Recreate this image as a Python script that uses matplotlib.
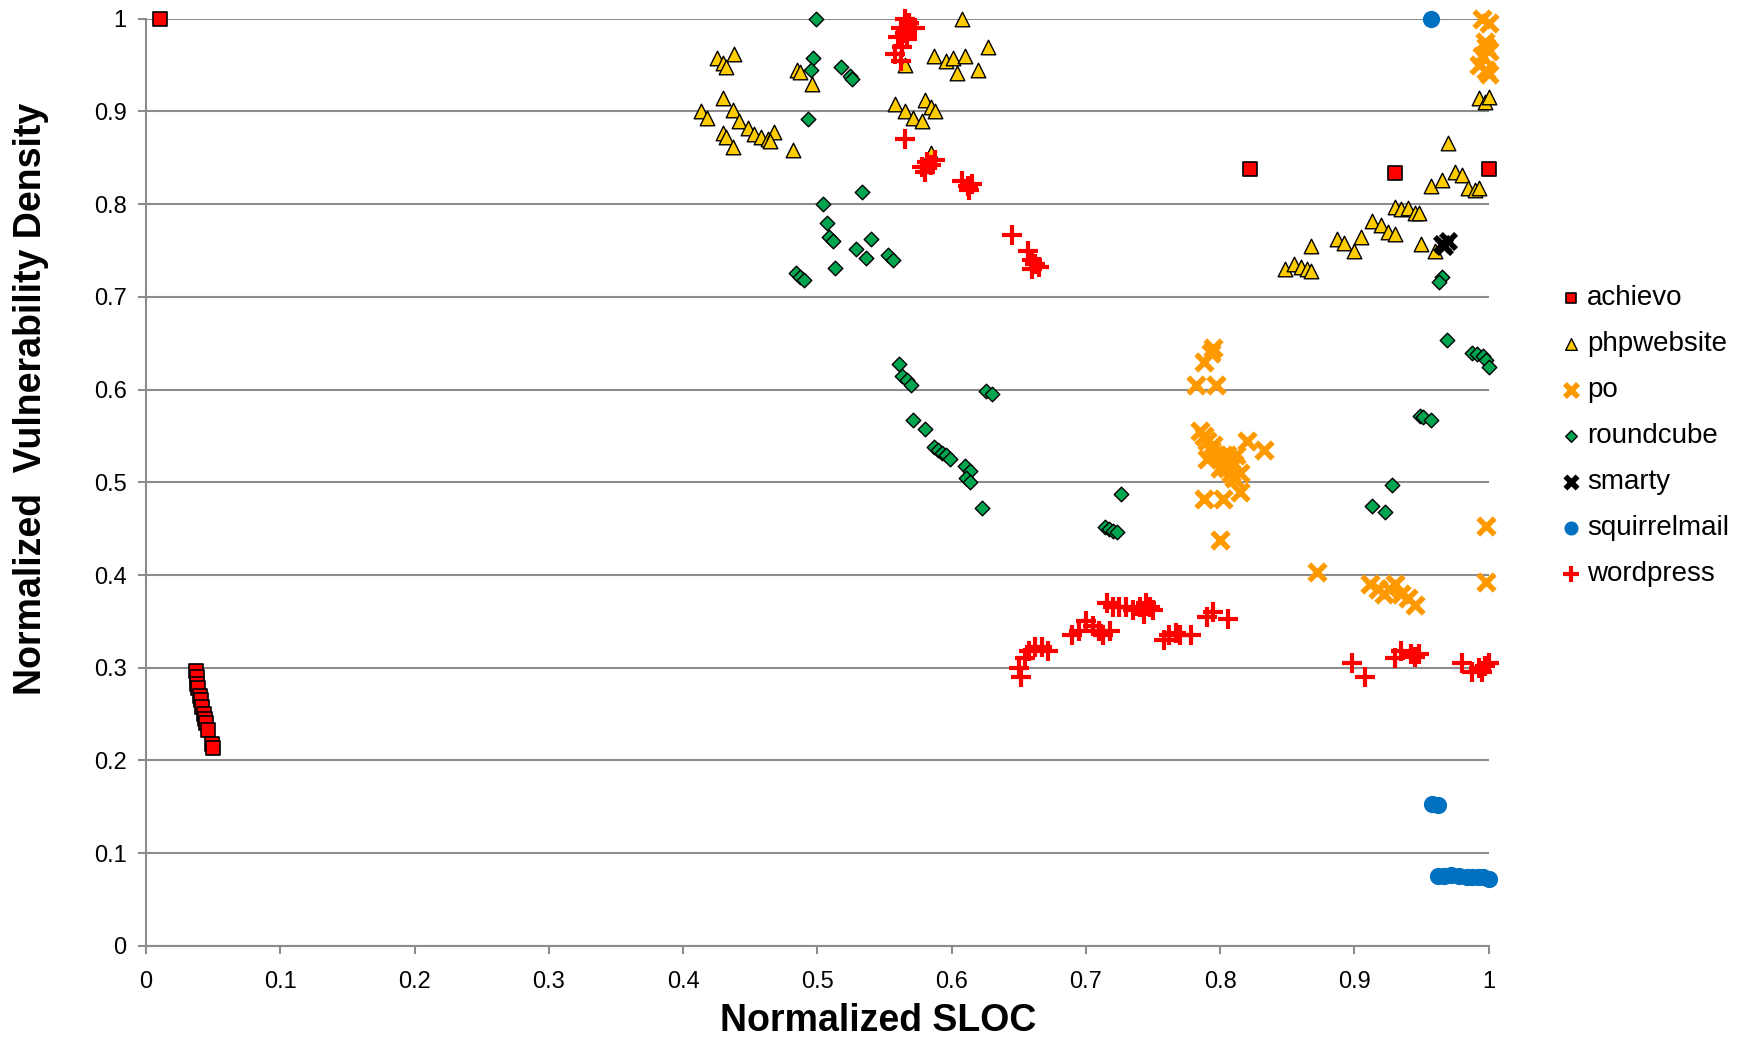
import matplotlib
matplotlib.use("Agg")
import matplotlib.pyplot as plt

plt.rcParams['font.family'] = ['Liberation Sans', 'DejaVu Sans']

# achievo
achievo_x = [0.01, 0.822, 0.93, 1.0, 0.037, 0.038, 0.038, 0.039, 0.040, 0.041, 0.042, 0.043,
             0.044, 0.045, 0.046, 0.049, 0.050]
achievo_y = [1.0, 0.838, 0.834, 0.838, 0.296, 0.290, 0.283, 0.278, 0.270, 0.265, 0.258, 0.250,
             0.245, 0.240, 0.233, 0.218, 0.213]

# phpwebsite
php_x = [0.413, 0.418, 0.425, 0.430, 0.432, 0.438, 0.430, 0.437, 0.442, 0.448, 0.453, 0.458,
         0.463, 0.468, 0.465, 0.430, 0.432, 0.437, 0.482, 0.485, 0.487, 0.496, 0.565, 0.558,
         0.565, 0.571, 0.578, 0.580, 0.585, 0.588, 0.585, 0.587, 0.596, 0.601, 0.604, 0.610,
         0.608, 0.620, 0.627,
         0.993, 0.997, 1.0, 0.970, 0.957, 0.965, 0.975, 0.980, 0.985, 0.990, 0.993, 0.950,
         0.960, 0.930, 0.935, 0.940, 0.945, 0.948, 0.913, 0.920, 0.925, 0.930, 0.887, 0.892,
         0.900, 0.905, 0.868, 0.848, 0.855, 0.860, 0.865, 0.868]
php_y = [0.900, 0.893, 0.958, 0.952, 0.948, 0.962, 0.915, 0.902, 0.890, 0.882, 0.876, 0.873,
         0.870, 0.878, 0.868, 0.877, 0.872, 0.862, 0.858, 0.945, 0.943, 0.930, 0.950, 0.908,
         0.900, 0.893, 0.890, 0.912, 0.905, 0.900, 0.855, 0.960, 0.955, 0.958, 0.942, 0.960,
         1.0, 0.945, 0.970,
         0.915, 0.910, 0.916, 0.866, 0.820, 0.826, 0.835, 0.832, 0.818, 0.815, 0.818, 0.757,
         0.750, 0.797, 0.795, 0.796, 0.790, 0.790, 0.782, 0.778, 0.770, 0.768, 0.762, 0.758,
         0.750, 0.765, 0.755, 0.730, 0.735, 0.732, 0.730, 0.728]

# po
po_x = [0.995, 1.0, 0.998, 0.995, 1.0, 0.993, 0.998, 1.0, 0.997,
        0.782, 0.788, 0.793, 0.795, 0.797, 0.785, 0.788, 0.790, 0.793, 0.795, 0.798, 0.800,
        0.803, 0.805, 0.808, 0.810, 0.812, 0.815, 0.820, 0.833, 0.815, 0.788, 0.802, 0.800,
        0.805, 0.810, 0.790, 0.800,
        0.872, 0.998, 0.998, 0.912, 0.918, 0.922, 0.926, 0.930, 0.935, 0.940, 0.945]
po_y = [1.0, 0.995, 0.970, 0.960, 0.965, 0.950, 0.945, 0.940, 0.975,
        0.605, 0.630, 0.640, 0.645, 0.605, 0.555, 0.550, 0.545, 0.535, 0.540, 0.530, 0.525,
        0.520, 0.515, 0.510, 0.520, 0.530, 0.510, 0.545, 0.535, 0.490, 0.482, 0.482, 0.438,
        0.530, 0.505, 0.525, 0.515,
        0.403, 0.453, 0.393, 0.390, 0.385, 0.380, 0.385, 0.390, 0.380, 0.375, 0.368]

# roundcube
rc_x = [0.499, 0.497, 0.495, 0.524, 0.526, 0.518, 0.493, 0.504, 0.507, 0.509, 0.512, 0.533,
        0.529, 0.540, 0.536, 0.553, 0.556, 0.513, 0.484, 0.487, 0.490, 0.561, 0.563, 0.567,
        0.570, 0.571, 0.580, 0.587, 0.590, 0.593, 0.596, 0.599, 0.610, 0.614, 0.611, 0.614,
        0.623, 0.626, 0.630, 0.714, 0.717, 0.720, 0.723, 0.726, 0.913, 0.923, 0.928, 0.949,
        0.951, 0.957, 0.969, 0.988, 0.991, 0.996, 0.998, 1.0, 0.965, 0.963]
rc_y = [1.0, 0.958, 0.945, 0.938, 0.935, 0.948, 0.892, 0.800, 0.780, 0.765, 0.760, 0.813,
        0.752, 0.762, 0.742, 0.745, 0.740, 0.731, 0.726, 0.722, 0.718, 0.628, 0.615, 0.610,
        0.605, 0.567, 0.558, 0.538, 0.535, 0.532, 0.530, 0.525, 0.518, 0.512, 0.505, 0.500,
        0.472, 0.598, 0.595, 0.452, 0.450, 0.448, 0.446, 0.487, 0.474, 0.468, 0.497, 0.572,
        0.570, 0.567, 0.653, 0.640, 0.638, 0.636, 0.632, 0.624, 0.722, 0.716]

# smarty
smarty_x = [0.965, 0.970, 0.967]
smarty_y = [0.757, 0.760, 0.755]

# squirrelmail
sq_x = [0.957, 0.958, 0.962, 0.962, 0.967, 0.972, 0.978, 0.984, 0.988, 0.992, 0.996, 1.0]
sq_y = [1.0, 0.153, 0.152, 0.075, 0.075, 0.076, 0.075, 0.074, 0.074, 0.074, 0.074, 0.072]

# wordpress
wp_x = [0.565, 0.562, 0.568, 0.570, 0.573, 0.565, 0.560, 0.567, 0.563, 0.558, 0.562,
        0.565, 0.578, 0.582, 0.580, 0.585, 0.588, 0.608, 0.612, 0.615, 0.613, 0.645, 0.657,
        0.660, 0.662, 0.665, 0.660,
        0.650, 0.652, 0.655, 0.658, 0.662, 0.667, 0.672, 0.690, 0.695, 0.700, 0.705, 0.710,
        0.713, 0.718, 0.716, 0.720, 0.725, 0.730, 0.735, 0.740, 0.745, 0.748, 0.750, 0.743,
        0.758, 0.762, 0.767, 0.770, 0.778, 0.790, 0.795, 0.806, 0.898, 0.908, 0.930, 0.935,
        0.942, 0.945, 0.948, 0.980, 0.988, 0.993, 0.997, 1.0, 0.995]
wp_y = [1.0, 0.990, 0.995, 0.990, 0.990, 0.985, 0.980, 0.978, 0.970, 0.962, 0.955,
        0.870, 0.840, 0.845, 0.835, 0.842, 0.848, 0.825, 0.820, 0.822, 0.815, 0.767, 0.750,
        0.740, 0.735, 0.732, 0.730,
        0.300, 0.290, 0.310, 0.318, 0.322, 0.322, 0.318, 0.335, 0.340, 0.350, 0.345, 0.340,
        0.335, 0.340, 0.370, 0.365, 0.365, 0.365, 0.362, 0.365, 0.370, 0.365, 0.362, 0.358,
        0.330, 0.335, 0.338, 0.335, 0.335, 0.355, 0.360, 0.353, 0.305, 0.290, 0.310, 0.318,
        0.315, 0.312, 0.315, 0.305, 0.295, 0.300, 0.302, 0.305, 0.295]

fig = plt.figure(figsize=(17.39, 10.44), dpi=100)
ax = fig.add_axes([0.084, 0.094, 0.772, 0.888])

ax.set_axisbelow(True)
ax.yaxis.grid(True, color='#8c8c8c', linewidth=1.5)

kw = dict(zorder=3, clip_on=False)
ax.scatter(achievo_x, achievo_y, marker='s', s=95, c='#ff0000', edgecolors='black', linewidths=1.2, label='achievo', **kw)
ax.scatter(php_x, php_y, marker='^', s=110, c='#ffcc00', edgecolors='black', linewidths=1.0, label='phpwebsite', **kw)
ax.scatter(po_x, po_y, marker='x', s=140, c='#ff9900', linewidths=4, label='po', **kw)
ax.scatter(rc_x, rc_y, marker='D', s=55, c='#00a550', edgecolors='black', linewidths=1.0, label='roundcube', **kw)
ax.scatter(smarty_x, smarty_y, marker='x', s=120, c='black', linewidths=4, label='smarty', **kw)
ax.scatter(sq_x, sq_y, marker='o', s=130, c='#0070c0', edgecolors='#0070c0', label='squirrelmail', **kw)
ax.scatter(wp_x, wp_y, marker='+', s=200, c='#ff0000', linewidths=3, label='wordpress', **kw)

ax.set_xlim(0, 1)
ax.set_ylim(0, 1)
ax.set_xticks([i / 10 for i in range(11)])
ax.set_xticklabels(['0', '0.1', '0.2', '0.3', '0.4', '0.5', '0.6', '0.7', '0.8', '0.9', '1'])
ax.set_yticks([i / 10 for i in range(11)])
ax.set_yticklabels(['0', '0.1', '0.2', '0.3', '0.4', '0.5', '0.6', '0.7', '0.8', '0.9', '1'])
ax.tick_params(axis='both', labelsize=17, color='#8c8c8c', length=6, width=1.5)
ax.tick_params(axis='x', pad=12)
ax.tick_params(axis='y', pad=8)

for side in ['top', 'right']:
    ax.spines[side].set_visible(False)
for side in ['left', 'bottom']:
    ax.spines[side].set_color('#8c8c8c')
    ax.spines[side].set_linewidth(1.5)

ax.set_xlabel('Normalized SLOC', fontsize=27, fontweight='bold')
ax.set_ylabel('Normalized  Vulnerability Density', fontsize=27, fontweight='bold')
ax.xaxis.set_label_coords(0.545, -0.062)
ax.yaxis.set_label_coords(-0.072, 0.59)

leg = ax.legend(loc='center left', bbox_to_anchor=(1.03, 0.55), frameon=False, fontsize=20,
                labelspacing=0.72, handletextpad=0.0, handlelength=1.2, markerscale=0.8)

fig.savefig('out.png', dpi=100)
